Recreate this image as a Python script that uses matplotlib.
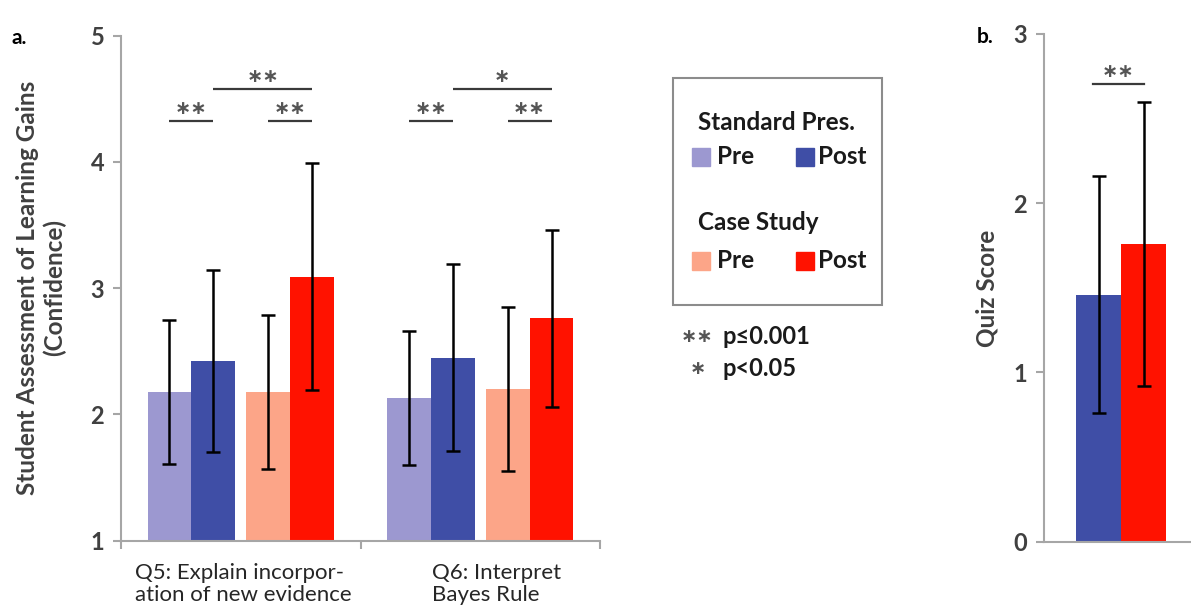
import numpy as np
import matplotlib
matplotlib.use("Agg")
import matplotlib.pyplot as plt
import matplotlib.transforms as mtrans
from matplotlib.patches import Rectangle

plt.rcParams['font.family'] = ['Lato', 'DejaVu Sans']

# panel a data
questions = ["Q5: Explain incorpor-\nation of new evidence", "Q6: Interpret\nBayes Rule"]
std_pre = [2.18, 2.13]
std_pre_err = [0.57, 0.53]
std_post = [2.42, 2.45]
std_post_err = [0.72, 0.74]
case_pre = [2.18, 2.20]
case_pre_err = [0.61, 0.65]
case_post = [3.09, 2.76]
case_post_err = [0.90, 0.70]

# significance brackets (question, first bar, second bar, level, label)
sig_a = [(0, 0, 1, 4.32, "**"), (0, 2, 3, 4.32, "**"), (0, 1, 3, 4.58, "**"),
         (1, 0, 1, 4.32, "**"), (1, 2, 3, 4.32, "**"), (1, 1, 3, 4.58, "*")]

# panel b data
quiz_groups = ["Standard Pres.", "Case Study"]
quiz_score = [1.46, 1.76]
quiz_err = [0.70, 0.84]

c_std_pre = '#9c98d0'
c_std_post = '#3f4ea6'
c_case_pre = '#fca588'
c_case_post = '#ff1200'
axis_grey = '#a6a6a6'
txt_grey = '#404040'
star_font = dict(family='DejaVu Sans', fontweight='bold', color='#555555')


def stars(s):
    return s.replace('*', '\u2217')


W, H = 1191, 610
fig = plt.figure(figsize=(W / 100, H / 100), dpi=100)

err_kw = dict(ecolor='black', elinewidth=1.8, capsize=5, capthick=1.8)

# ---- panel a
ax = fig.add_axes([121 / W, (H - 540.7) / H, 479 / W, (540.7 - 35.5) / H])
x = np.arange(len(questions))
w = 0.183
gap = 0.046
offsets = [-(gap / 2 + 1.5 * w), -(gap / 2 + 0.5 * w), gap / 2 + 0.5 * w, gap / 2 + 1.5 * w]
series = [(std_pre, std_pre_err, c_std_pre), (std_post, std_post_err, c_std_post),
          (case_pre, case_pre_err, c_case_pre), (case_post, case_post_err, c_case_post)]
for off, (vals, errs, col) in zip(offsets, series):
    ax.bar(x + off, vals, w, yerr=errs, color=col, error_kw=err_kw, zorder=2)

for q, i, j, lev, lab in sig_a:
    x1, x2 = x[q] + offsets[i], x[q] + offsets[j]
    ax.plot([x1, x2], [lev, lev], color='#3a3a3a', lw=1.6, solid_capstyle='butt')
    ax.annotate(stars(lab), xy=((x1 + x2) / 2, lev), xytext=(0, 9),
                textcoords='offset points', ha='center', va='center',
                fontsize=14, **star_font)

ax.set_xlim(-0.5, 1.5)
ax.set_ylim(1, 5)
ax.set_yticks([1, 2, 3, 4, 5])
ax.set_xticks([-0.5, 0.5, 1.5])
ax.set_xticklabels([])
for s in ['top', 'right']:
    ax.spines[s].set_visible(False)
for s in ['left', 'bottom']:
    ax.spines[s].set_color(axis_grey)
    ax.spines[s].set_linewidth(1.5)
ax.tick_params(axis='both', direction='out', length=6, width=1.5, color=axis_grey,
               labelsize=17, labelcolor=txt_grey, pad=6)
for t in ax.get_yticklabels():
    t.set_fontweight('bold')

trans = mtrans.blended_transform_factory(ax.transData, fig.transFigure)
label_x = [-0.44, 0.80]
for lx, q in zip(label_x, questions):
    ax.text(lx, (H - 563) / H, q, transform=trans, ha='left', va='top',
            fontsize=16, color='#262626', linespacing=1.12)

fig.text(41 / W, (H - 288) / H, "Student Assessment of Learning Gains\n(Confidence)",
         rotation=90, ha='center', va='center', multialignment='center',
         fontsize=17.5, fontweight='bold', color=txt_grey, linespacing=1.2)
fig.text(12 / W, (H - 38) / H, "a.", fontsize=15, fontweight='bold', va='center')

# ---- legend box
fig.patches.append(Rectangle((673 / W, (H - 305) / H), 209 / W, 227 / H,
                             transform=fig.transFigure, fill=False,
                             edgecolor='#8c8c8c', lw=1.5))
leg_fs = 17.5
fig.text(698 / W, (H - 122) / H, "Standard Pres.", fontsize=leg_fs, fontweight='bold',
         va='center', color='#1a1a1a')
fig.text(698 / W, (H - 222) / H, "Case Study", fontsize=leg_fs, fontweight='bold',
         va='center', color='#1a1a1a')
legend_rows = [(157, c_std_pre, c_std_post), (261, c_case_pre, c_case_post)]
for yc, cpre, cpost in legend_rows:
    for sx, tx, col, lab in [(692, 717, cpre, "Pre"), (796, 818, cpost, "Post")]:
        fig.patches.append(Rectangle((sx / W, (H - yc - 9) / H), 18 / W, 18 / H,
                                     transform=fig.transFigure, color=col))
        fig.text(tx / W, (H - yc) / H, lab, fontsize=leg_fs, fontweight='bold',
                 va='center', color='#1a1a1a')

fig.text(713 / W, (H - 337) / H, stars("**"), fontsize=14, ha='right', va='center',
         **star_font)
fig.text(722 / W, (H - 337) / H, "p\u22640.001", fontsize=17, fontweight='bold',
         va='center', color='#1a1a1a')
fig.text(706 / W, (H - 368) / H, stars("*"), fontsize=14, ha='right', va='center',
         **star_font)
fig.text(722 / W, (H - 368) / H, "p<0.05", fontsize=17, fontweight='bold',
         va='center', color='#1a1a1a')

# ---- panel b
ax2 = fig.add_axes([1044 / W, (H - 541.7) / H, (W - 1044) / W, (541.7 - 33.8) / H])
w2 = 0.35
xb = np.array([-w2 / 2, w2 / 2])
ax2.bar(xb, quiz_score, w2, yerr=quiz_err, color=[c_std_post, c_case_post],
        error_kw=err_kw, zorder=2)
ax2.plot([xb[0] - 0.04, xb[1]], [2.705, 2.705], color='#3a3a3a', lw=1.6)
ax2.annotate(stars("**"), xy=((xb[0] + xb[1]) / 2 - 0.02, 2.705), xytext=(0, 9),
             textcoords='offset points', ha='center', va='center', fontsize=14,
             **star_font)
ax2.set_xlim(-0.6, 0.544)
ax2.set_ylim(0, 3)
ax2.set_yticks([0, 1, 2, 3])
ax2.set_xticks([])
for s in ['top', 'right']:
    ax2.spines[s].set_visible(False)
for s in ['left', 'bottom']:
    ax2.spines[s].set_color(axis_grey)
    ax2.spines[s].set_linewidth(1.5)
ax2.tick_params(axis='y', direction='out', length=6, width=1.5, color=axis_grey,
                labelsize=17, labelcolor=txt_grey, pad=6)
for t in ax2.get_yticklabels():
    t.set_fontweight('bold')
fig.text(987 / W, (H - 288) / H, "Quiz Score", rotation=90, ha='center', va='center',
         fontsize=17.5, fontweight='bold', color=txt_grey)
fig.text(977 / W, (H - 37) / H, "b.", fontsize=15, fontweight='bold', va='center')

fig.savefig("out.png", dpi=100)
